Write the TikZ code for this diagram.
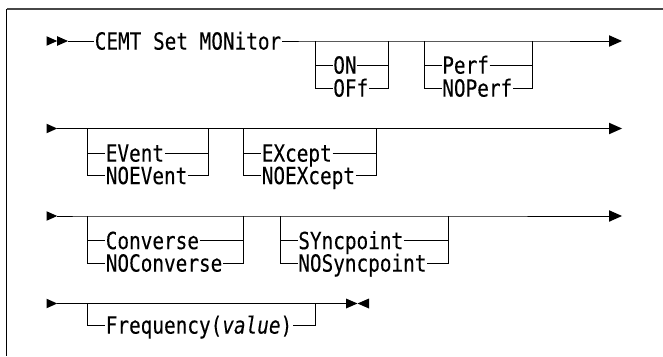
\documentclass[tikz,border=0pt]{standalone}
\usepackage{fontspec}
\newfontfamily\rrfont[FakeStretch=0.82,FakeBold=0.2]{DejaVu Sans Mono}
\usetikzlibrary{calc}
\tikzset{
  rail/.style={line width=1pt, line cap=butt},
  lbl/.style={font=\rrfont\fontsize{23.6}{25}\selectfont, inner sep=0.6pt, text height=17.2pt, text depth=0pt, anchor=west},
  tipfill/.style={fill=black, draw=none},
  frameline/.style={line width=1.6pt}
}
\newcommand{\rrchoice}[7]{% name, xl, xr, ymain, text1, text2, offset1
  \coordinate (#1tl) at (#2,#4);
  \coordinate (#1tr) at (#3,#4);
  \node[lbl] (#1a) at (#2+17.5,#4+#7) {#5};
  \draw[rail] (#1tl) |- (#1a.west);
  \draw[rail] (#1a.east) -| (#1tr);
  \if\relax\detokenize{#6}\relax\else
    \node[lbl] (#1b) at (#2+17.5,#4+47) {#6};
    \draw[rail] (#1tl) |- (#1b.west);
    \draw[rail] (#1b.east) -| (#1tr);
  \fi
}
\begin{document}
\begin{tikzpicture}[x=1pt,y=-1pt]
\useasboundingbox (0,0) rectangle (663,356);
% frame
\coordinate (ftl) at (6.5,9);
\coordinate (ftr) at (663,9);
\coordinate (fbl) at (6.5,356);
\draw[frameline, black!72] (ftl) -- (ftr);
\draw[frameline, black] (ftl) -- (fbl);

% ---------- row 1
\coordinate (r1s) at (46.5,41);
\coordinate (r1m) at (57.2,41);
\coordinate (r1t) at (68,41);
\fill[tipfill] (r1s) ++(0,-4.8) -- ++(10.7,4.8) -- ++(-10.7,4.8) -- cycle;
\fill[tipfill] (r1m) ++(0,-4.8) -- ++(10.8,4.8) -- ++(-10.8,4.8) -- cycle;
\node[lbl] (cemt) at (94,41) {CEMT Set MONitor};
\rrchoice{ga}{315}{388}{41}{ON}{OFf}{24}
\rrchoice{gb}{424}{532}{41}{Perf}{NOPerf}{24}
\coordinate (r1e) at (609,41);
\draw[rail] (r1t) -- (cemt.west);
\draw[rail] (cemt.east) -- (gatl) -- (gatr) -- (gbtl) -- (gbtr) -- (r1e);
\fill[tipfill] (r1e) ++(0,-5.8) -- ++(13,5.8) -- ++(-13,5.8) -- cycle;

% ---------- row 2
\coordinate (r2s) at (46.5,128.5);
\coordinate (r2t) at (57.2,128.5);
\fill[tipfill] (r2s) ++(0,-4.8) -- ++(10.7,4.8) -- ++(-10.7,4.8) -- cycle;
\rrchoice{gc}{87.5}{208}{128.5}{EVent}{NOEVent}{24.5}
\rrchoice{gd}{243.5}{376}{128.5}{EXcept}{NOEXcept}{24.5}
\coordinate (r2e) at (609,128.5);
\draw[rail] (r2t) -- (gctl) -- (gctr) -- (gdtl) -- (gdtr) -- (r2e);
\fill[tipfill] (r2e) ++(0,-5.8) -- ++(13,5.8) -- ++(-13,5.8) -- cycle;

% ---------- row 3
\coordinate (r3s) at (46.5,216);
\coordinate (r3t) at (57.2,216);
\fill[tipfill] (r3s) ++(0,-4.8) -- ++(10.7,4.8) -- ++(-10.7,4.8) -- cycle;
\rrchoice{ge}{87.5}{243.5}{216}{Converse}{NOConverse}{24.5}
\rrchoice{gf}{280}{448}{216}{SYncpoint}{NOSyncpoint}{24.5}
\coordinate (r3e) at (609,216);
\draw[rail] (r3t) -- (getl) -- (getr) -- (gftl) -- (gftr) -- (r3e);
\fill[tipfill] (r3e) ++(0,-5.8) -- ++(13,5.8) -- ++(-13,5.8) -- cycle;

% ---------- row 4
\coordinate (r4s) at (46.5,303.5);
\coordinate (r4t) at (57.2,303.5);
\fill[tipfill] (r4s) ++(0,-4.8) -- ++(10.7,4.8) -- ++(-10.7,4.8) -- cycle;
\rrchoice{gg}{87.5}{315.5}{303.5}{Frequency(\textit{value})}{}{21.5}
\coordinate (r4e) at (346,303.5);
\coordinate (r4f) at (369,303.5);
\draw[rail] (r4t) -- (ggtl) -- (ggtr) -- (r4e);
\fill[tipfill] (r4e) ++(0,-5) -- ++(11.5,5) -- ++(-11.5,5) -- cycle;
\fill[tipfill] (r4f) ++(0,-5) -- ++(-11.5,5) -- ++(11.5,5) -- cycle;
\end{tikzpicture}
\end{document}
